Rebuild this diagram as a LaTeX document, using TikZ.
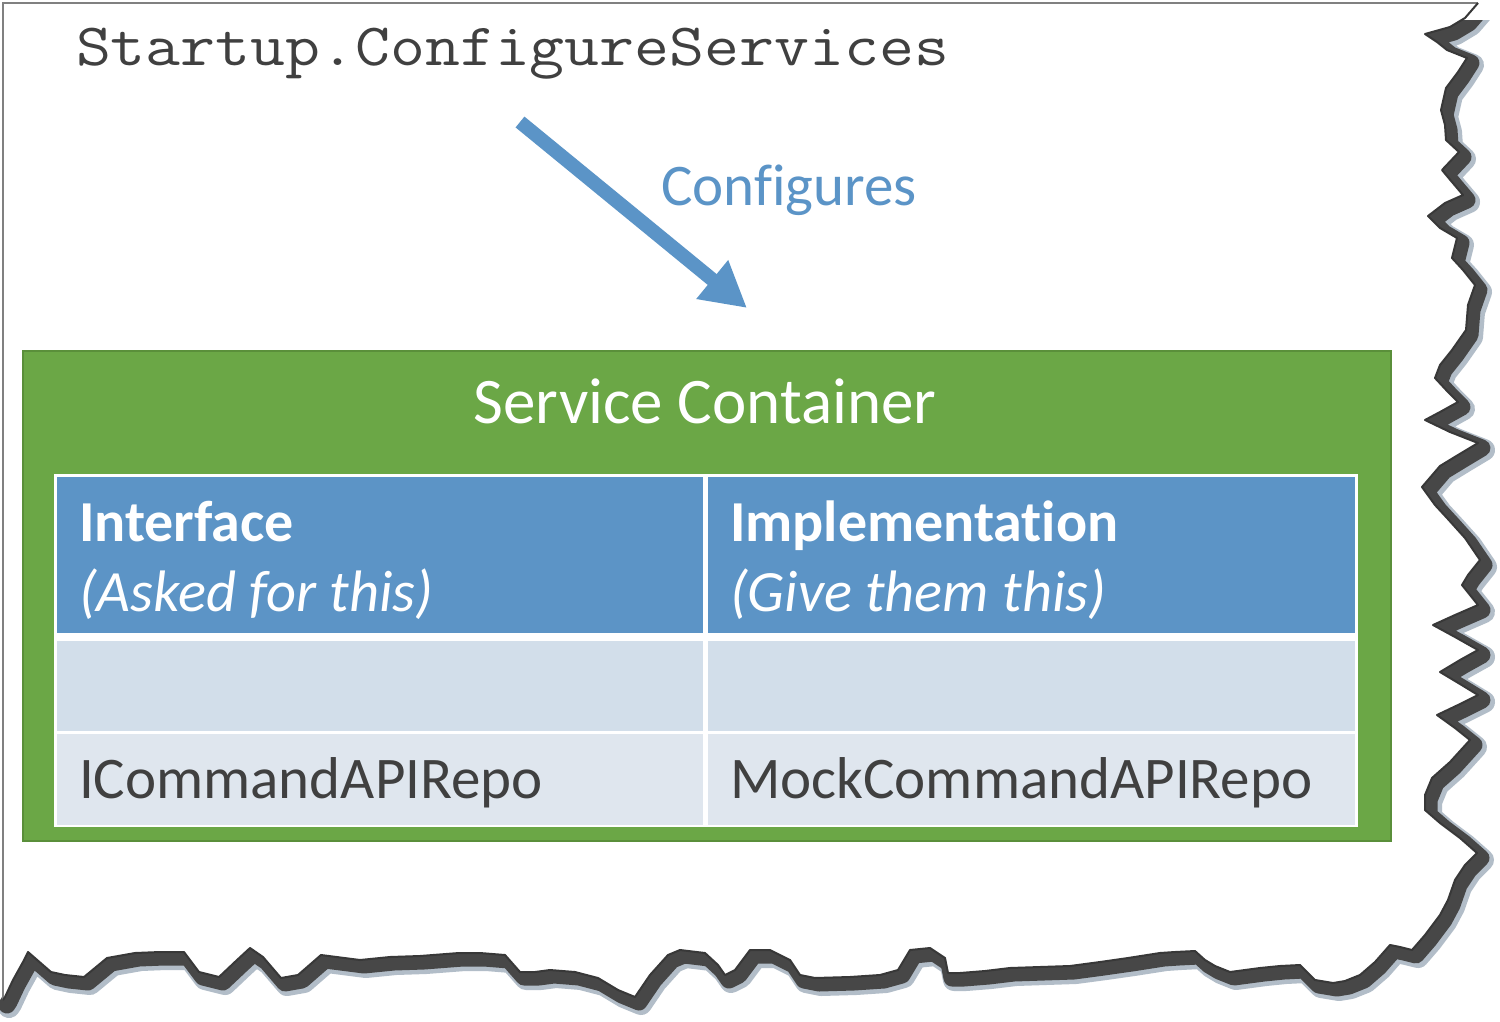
\documentclass[tikz,border=0pt]{standalone}
\usepackage{fontspec}
\newfontfamily\calibri[Ligatures=CommonOff]{Carlito}
\usetikzlibrary{arrows.meta}
\definecolor{paperborder}{HTML}{808080}
\definecolor{tearline}{HTML}{383838}
\definecolor{tearshadow}{HTML}{474747}
\definecolor{tearshadowlight}{HTML}{B2BDC8}
\definecolor{boxgreen}{HTML}{6BA746}
\definecolor{boxgreenline}{HTML}{5A8F3A}
\definecolor{headblue}{HTML}{5C94C6}
\definecolor{rowtwo}{HTML}{D2DEEA}
\definecolor{rowthree}{HTML}{DFE6EE}
\definecolor{textgray}{HTML}{404040}
\definecolor{arrowblue}{HTML}{5B94C7}
\newcommand{\tornedge}{(1478,3) -- (1465,18) -- (1450,27) -- (1425,34) -- (1437,42) -- (1447,50) -- (1467,58) -- (1458,72) -- (1446,88) -- (1441,110) -- (1445,125) -- (1446,140) -- (1459,152) -- (1442,170) -- (1452,182) -- (1463,195) -- (1445,203) -- (1428,216) -- (1440,228) -- (1457,238) -- (1452,258) -- (1463,270) -- (1475,285) -- (1468,305) -- (1466,330) -- (1452,350) -- (1440,365) -- (1435,378) -- (1448,392) -- (1458,402) -- (1440,412) -- (1425,420) -- (1450,432) -- (1478,443) -- (1458,455) -- (1440,466) -- (1422,487) -- (1435,505) -- (1447,518) -- (1465,538) -- (1480,560) -- (1468,575) -- (1462,585) -- (1478,605) -- (1455,615) -- (1433,625) -- (1455,637) -- (1478,650) -- (1460,660) -- (1440,672) -- (1460,684) -- (1478,695) -- (1458,705) -- (1437,715) -- (1455,728) -- (1470,740) -- (1450,762) -- (1432,778) -- (1425,795) -- (1425,810) -- (1440,823) -- (1460,838) -- (1477,853) -- (1465,865) -- (1455,880) -- (1448,900) -- (1440,915) -- (1425,935) -- (1412,950) -- (1400,947) -- (1390,945) -- (1375,962) -- (1360,975) -- (1345,981) -- (1333,983) -- (1315,980) -- (1300,965) -- (1280,966) -- (1260,968) -- (1230,972) -- (1215,966) -- (1205,960) -- (1195,951) -- (1175,952) -- (1160,953) -- (1128,958) -- (1100,962) -- (1070,966) -- (1040,967) -- (1010,968) -- (985,971) -- (960,973) -- (948,973) -- (945,958) -- (930,948) -- (910,950) -- (898,970) -- (880,975) -- (850,977) -- (815,978) -- (800,975) -- (790,960) -- (770,950) -- (750,950) -- (735,970) -- (725,975) -- (718,965) -- (705,953) -- (680,950) -- (668,955) -- (650,975) -- (635,997) -- (618,990) -- (598,978) -- (575,972) -- (550,970) -- (535,972) -- (520,972) -- (505,955) -- (480,953) -- (459,953) -- (420,956) -- (390,957) -- (360,960) -- (321,955) -- (298,975) -- (281,978) -- (263,957) -- (250,948) -- (237,960) -- (219,977) -- (199,972) -- (184,952) -- (160,952) -- (135,953) -- (107,958) -- (84,977) -- (65,975) -- (51,972) -- (28,952) -- (23,962) -- (13,980) -- (5,997) -- (3,1000)}
\tikzset{
  shadowlight/.style={draw=tearshadowlight, line width=22pt, line join=round, line cap=round},
  shadowdark/.style={draw=tearshadow, line width=17pt, line join=round, line cap=round},
  tearstroke/.style={draw=tearline, line width=2pt, line join=round},
  borderstroke/.style={draw=paperborder, line width=2pt},
  lbl/.style={inner sep=0pt, outer sep=0pt, anchor=base west},
  titletext/.style={lbl, font=\ttfamily\fontsize{60}{60}\selectfont, text=textgray, xscale=1.13},
  cfglabel/.style={lbl, font=\calibri\fontsize{59}{62}\selectfont, text=arrowblue},
  cfgarrow/.style={draw=arrowblue, line width=14pt, -{Triangle[length=45pt, width=47pt]}},
  container/.style={draw=boxgreenline, fill=boxgreen, line width=1.5pt, inner sep=0pt, anchor=north west},
  sctitle/.style={inner sep=0pt, anchor=base, font=\calibri\fontsize{65}{68}\selectfont, text=white},
  cellbase/.style={draw=none, inner sep=0pt, anchor=north west},
  headcell/.style={cellbase, fill=headblue},
  twocell/.style={cellbase, fill=rowtwo},
  threecell/.style={cellbase, fill=rowthree},
  headbold/.style={lbl, font=\calibri\bfseries\fontsize{58}{61}\selectfont, text=white},
  headital/.style={lbl, font=\calibri\itshape\fontsize{58.5}{61}\selectfont, text=white},
  bodytext/.style={lbl, font=\calibri\fontsize{59}{62}\selectfont, text=textgray},
}
\begin{document}
\begin{tikzpicture}[x=1pt, y=-1pt]
\useasboundingbox (0,0) rectangle (1500,1021);
\fill[white] (0,0) rectangle (1500,1021);
% torn paper shadow and outline
\begin{scope}
\clip (0,20) rectangle (1500,1021);
\draw[shadowlight, shift={(6,7)}] \tornedge;
\draw[shadowdark, shift={(4,5)}] \tornedge;
\end{scope}
\fill[white] (3,3) -- \tornedge -- cycle;
\draw[borderstroke] (3,1000) -- (3,3) -- (1478,3);
\draw[tearstroke] \tornedge;
% title
\node[titletext] (title) at (76,65) {Startup.ConfigureServices};
% arrow
\coordinate (cfgA) at (520,122);
\coordinate (cfgB) at (747,308);
\draw[cfgarrow] (cfgA) -- (cfgB);
\node[cfglabel] (cfg) at (661,205) {Configures};
% container
\node[container, minimum width=1368pt, minimum height=490pt] (sc) at (22,350) {};
\node[sctitle] (sclabel) at (705,423) {Service Container};
% table
\node[cellbase, fill=white, minimum width=1304pt, minimum height=353pt] (tbl) at (54,474) {};
\node[headcell, minimum width=646pt, minimum height=156pt] (h1) at (57,477) {};
\node[headcell, minimum width=647pt, minimum height=156pt] (h2) at (708,477) {};
\node[twocell, minimum width=646pt, minimum height=90pt] (r2a) at (57,641) {};
\node[twocell, minimum width=647pt, minimum height=90pt] (r2b) at (708,641) {};
\node[threecell, minimum width=646pt, minimum height=91pt] (r3a) at (57,734) {};
\node[threecell, minimum width=647pt, minimum height=91pt] (r3b) at (708,734) {};
\node[headbold] (ifc) at (79,541) {Interface};
\node[headital] (ifcnote) at (79,611) {(Asked for this)};
\node[headbold] (impl) at (730,541) {Implementation};
\node[headital] (implnote) at (730,611) {(Give them this)};
\node[bodytext] (ifcval) at (79,798) {ICommandAPIRepo};
\node[bodytext] (implval) at (730,798) {MockCommandAPIRepo};
\end{tikzpicture}
\end{document}
